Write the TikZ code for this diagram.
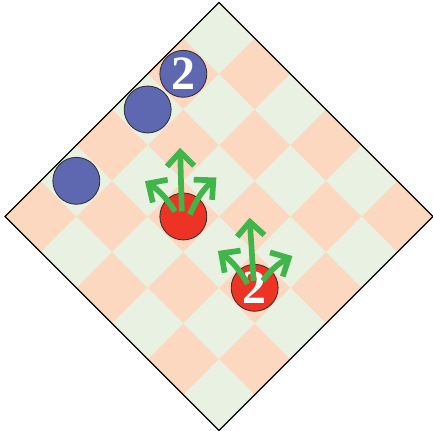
\documentclass[tikz,border=0pt]{standalone}
\usepackage{fontspec}
\setmainfont{Liberation Serif}
\usepackage{tikz}
\usetikzlibrary{arrows.meta}
\definecolor{caserose}{RGB}{252,216,192}
\definecolor{caseverte}{RGB}{233,241,226}
\definecolor{pionbleu}{RGB}{94,104,176}
\definecolor{pionrouge}{RGB}{237,52,36}
\definecolor{coup}{RGB}{63,181,74}
\tikzset{
  pion/.style={circle,draw=black!80,line width=0.5pt,minimum size=0.93cm,inner sep=0pt,
    font=\fontsize{27}{27}\selectfont\bfseries,text=white},
  coupfl/.style={coup,line width=3.2pt,-{Straight Barb[length=2.8mm,width=5.4mm]}}
}

\begin{document}
\begin{tikzpicture}
      \useasboundingbox (-4.342,-4.253) rectangle (4.243,4.292);
      % damier
      \begin{scope}[rotate=45,shift={(-3,-3)}]
        \fill[caserose](0,0) rectangle (6,6);
        \foreach \a in {0,...,5}
          \foreach \b in {0,...,5}{
            \pgfmathtruncatemacro{\pairc}{mod(\a+\b,2)}
            \ifnum\pairc=0 \fill[caseverte](\a,\b) rectangle ++(1,1);\fi
          }
        \draw[line width=0.7pt](0,0) rectangle (6,6);
        % pions
        \node[pion,fill=pionbleu] (b1) at (1.5,5.5) {};
        \node[pion,fill=pionbleu] (b2) at (3.5,5.5) {};
        \node[pion,fill=pionbleu] (b3) at (4.5,5.5) {2};
        \node[pion,fill=pionrouge] (r1) at (2.5,3.5) {};
        \node[pion,fill=pionrouge] (r2) at (2.5,1.5) {2};
      \end{scope}
      % coups du premier pion rouge
      \coordinate (r1n) at ([shift={(-0.065,1.36)}]r1.center);
      \coordinate (r1o) at ([shift={(-0.76,0.70)}]r1.center);
      \coordinate (r1e) at ([shift={(0.655,0.773)}]r1.center);
      \draw[coupfl]([shift={(-0.03,0.1)}]r1.center)--(r1n);
      \draw[coupfl]([shift={(-0.165,0.1)}]r1.center) to[bend right=12] (r1o);
      \draw[coupfl]([shift={(0.13,0.04)}]r1.center) to[bend left=12] (r1e);
      % coups du pion rouge double
      \coordinate (r2n) at ([shift={(-0.1,1.39)}]r2.center);
      \coordinate (r2o) at ([shift={(-0.73,0.73)}]r2.center);
      \coordinate (r2e) at ([shift={(0.75,0.63)}]r2.center);
      \draw[coupfl]([shift={(-0.02,0.14)}]r2.center)--(r2n);
      \draw[coupfl]([shift={(-0.14,0.08)}]r2.center) to[bend right=12] (r2o);
      \draw[coupfl]([shift={(0.16,0.14)}]r2.center) to[bend left=12] (r2e);
\end{tikzpicture}
\end{document}
